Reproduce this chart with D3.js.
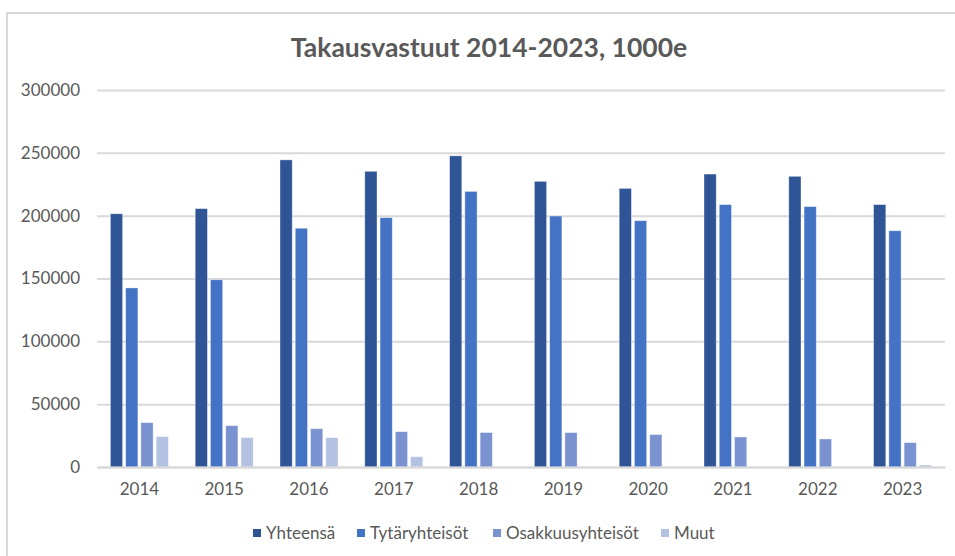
<!DOCTYPE html>
<html>
<head>
<meta charset="utf-8">
<script src="https://cdn.jsdelivr.net/npm/d3@7"></script>
<style>
  body { margin: 0; background: #fff; }
  #graf { width: 955px; height: 556px; }
  text { font-family: Lato, "Open Sans", sans-serif; fill: #595959; }
</style>
</head>
<body>
<div id="graf"></div>
<script>
// Datos
anios = ['2014', '2015', '2016', '2017', '2018', '2019', '2020', '2021', '2022', '2023']
series = ['Yhteensä', 'Tytäryhteisöt', 'Osakkuusyhteisöt', 'Muut']
yhteensa = [201500, 205600, 244400, 235300, 247600, 227300, 221700, 233100, 231300, 208800]
tytaryhteisot = [142500, 149000, 190000, 198400, 219300, 199700, 196000, 208800, 207200, 188000]
osakkuusyhteisot = [35300, 32900, 30500, 28100, 27400, 27400, 25800, 23900, 22300, 19400]
muut = [24200, 23400, 23400, 8200, 0, 0, 0, 0, 0, 1600]
yTicks = [0, 50000, 100000, 150000, 200000, 250000, 300000]
colores = ['#2f5597', '#4472c4', '#7a93d0', '#b4c2e2']

valores = [yhteensa, tytaryhteisot, osakkuusyhteisot, muut]
data = anios.map((a, i) => ({ anio: a, vals: series.map((s, j) => ({ serie: s, v: valores[j][i] })) }))

// Configuración
ancho_total = 955
alto_total = 556
margins = { top: 90, left: 97, right: 10, bottom: 89 }
ancho = ancho_total - margins.left - margins.right
alto = alto_total - margins.top - margins.bottom

svg = d3.select('#graf').append('svg')
        .attr('width', ancho_total)
        .attr('height', alto_total)

// marco del gráfico
svg.append('rect')
   .attr('x', 7).attr('y', 13)
   .attr('width', 960).attr('height', 560)
   .attr('fill', 'none')
   .attr('stroke', '#d9d9d9')
   .attr('stroke-width', 2)

g = svg.append('g')
       .attr('transform', `translate(${ margins.left }, ${ margins.top })`)

y = d3.scaleLinear()
      .domain([0, 300000])
      .range([alto, 0])

x0 = d3.scaleBand()
       .domain(anios)
       .range([0, ancho])
       .paddingInner(0.316)
       .paddingOuter(0.158)

x1 = d3.scaleBand()
       .domain(series)
       .range([0, x0.bandwidth()])
       .paddingInner(0.2)

color = d3.scaleOrdinal()
          .domain(series)
          .range(colores)

// líneas de la cuadrícula + etiquetas del eje y
yAxisCall = d3.axisLeft(y)
              .tickValues(yTicks)
              .tickSize(-ancho)
              .tickPadding(17)
              .tickFormat(d => d)
yAxisGroup = g.append('g').call(yAxisCall)
yAxisGroup.select('.domain').remove()
yAxisGroup.selectAll('line')
          .attr('stroke', '#d9d9d9')
          .attr('stroke-width', 2)
yAxisGroup.selectAll('text')
          .style('font-size', '17px')
          .attr('fill', '#595959')

// barras
grupos = g.selectAll('.grupo')
          .data(data)
          .enter().append('g')
          .attr('class', 'grupo')
          .attr('transform', d => `translate(${ x0(d.anio) }, 0)`)

grupos.selectAll('rect')
      .data(d => d.vals)
      .enter().append('rect')
        .attr('x', d => x1(d.serie))
        .attr('y', d => y(d.v))
        .attr('width', x1.bandwidth())
        .attr('height', d => y(0) - y(d.v))
        .attr('fill', d => color(d.serie))
        .attr('stroke', '#ffffff')
        .attr('stroke-opacity', 0.45)
        .attr('stroke-width', 0.8)

// eje x (línea base)
xAxisCall = d3.axisBottom(x0).tickSize(0).tickPadding(16)
xAxisGroup = g.append('g')
              .attr('transform', `translate(0, ${ alto })`)
              .call(xAxisCall)
xAxisGroup.select('.domain')
          .attr('stroke', '#d9d9d9')
          .attr('stroke-width', 2)
xAxisGroup.selectAll('text')
          .style('font-size', '17px')
          .attr('fill', '#595959')

// título
svg.append('text')
   .attr('x', 489)
   .attr('y', 57)
   .attr('text-anchor', 'middle')
   .style('font-size', '26.5px')
   .style('font-weight', 'bold')
   .text('Takausvastuut 2014-2023, 1000e')

// leyenda
leyendaX = [253, 357, 493, 661]
leyenda = svg.selectAll('.leyenda')
             .data(series)
             .enter().append('g')
             .attr('class', 'leyenda')
             .attr('transform', (d, i) => `translate(${ leyendaX[i] }, 533)`)
leyenda.append('rect')
       .attr('x', 0).attr('y', -4)
       .attr('width', 8).attr('height', 8)
       .attr('fill', d => color(d))
leyenda.append('text')
       .attr('x', 13)
       .attr('dy', '0.35em')
       .style('font-size', '17px')
       .text(d => d)
</script>
</body>
</html>
